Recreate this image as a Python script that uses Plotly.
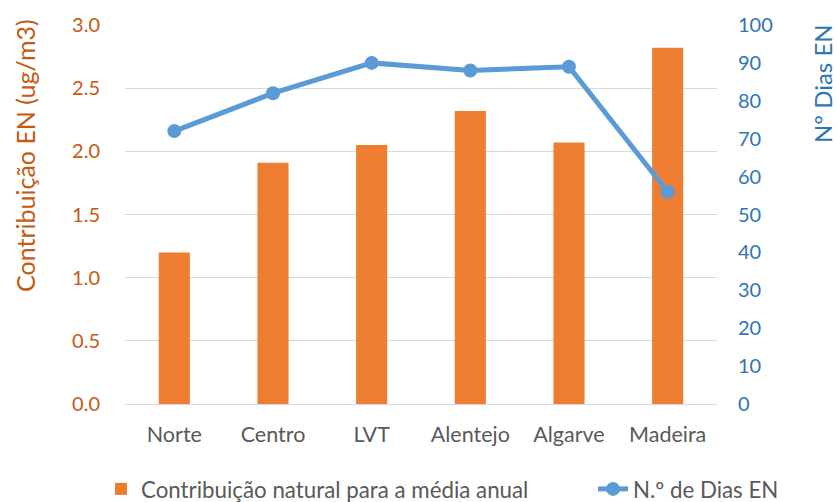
import plotly.graph_objects as go

categories = ["Norte", "Centro", "LVT", "Alentejo", "Algarve", "Madeira"]
contrib = [1.20, 1.91, 2.05, 2.32, 2.07, 2.82]
dias = [72, 82, 90, 88, 89, 56]
left_ticks = [0, 0.5, 1.0, 1.5, 2.0, 2.5, 3.0]
right_ticks = [0, 10, 20, 30, 40, 50, 60, 70, 80, 90, 100]

FONT = "Lato"
ORANGE = "#ED7D31"
BLUE = "#5B9BD5"

fig = go.Figure()
fig.add_trace(go.Bar(x=categories, y=contrib, name="Contribuição natural para a média anual",
                     marker=dict(color=ORANGE, line=dict(width=0)), yaxis="y", legend="legend"))
fig.add_trace(go.Scatter(x=categories, y=dias, name="N.º de Dias EN", mode="lines+markers",
                         line=dict(color=BLUE, width=5), marker=dict(color=BLUE, size=14),
                         yaxis="y2", legend="legend2"))

legend_common = dict(orientation="h", xref="container", yref="paper",
                     xanchor="left", yanchor="middle", y=-0.224,
                     font=dict(size=22.3, color="#595959"), bgcolor="rgba(0,0,0,0)",
                     borderwidth=0)

fig.update_layout(
    template="none",
    width=837, height=502,
    margin=dict(l=125, r=120, t=25, b=98, autoexpand=False),
    paper_bgcolor="white", plot_bgcolor="white",
    bargap=0.685,
    font=dict(family=FONT, size=20, color="#595959"),
    xaxis=dict(showgrid=False, showline=True, linecolor="#D9D9D9", linewidth=1,
               automargin=False, zeroline=False,
               ticks="", tickfont=dict(size=21.5, color="#595959"), ticklabelstandoff=11),
    yaxis=dict(range=[0, 3.0], tickvals=left_ticks, ticktext=[f"{v:.1f}" for v in left_ticks],
               showgrid=True, gridcolor="#D9D9D9", gridwidth=1, zeroline=False, showline=False,
               automargin=False, ticks="",
               tickfont=dict(size=20, color="#C55A11"), ticklabelstandoff=24),
    yaxis2=dict(range=[0, 100], tickvals=right_ticks, overlaying="y", side="right",
                showgrid=False, zeroline=False, showline=False, automargin=False, ticks="",
                tickfont=dict(size=20, color="#2E75B6"), ticklabelstandoff=20),
    showlegend=True,
    legend=dict(x=101 / 837, **legend_common),
    legend2=dict(x=593 / 837, **legend_common),
    annotations=[
        dict(text="Contribuição EN (ug/m3)", textangle=-90, xref="paper", yref="paper",
             x=-0.169, y=0.657, xanchor="center", yanchor="middle", showarrow=False,
             font=dict(size=25, color="#C55A11")),
        dict(text="Nº Dias EN", textangle=-90, xref="paper", yref="paper",
             x=1.179, y=0.847, xanchor="center", yanchor="middle", showarrow=False,
             font=dict(size=24, color="#2E75B6")),
    ],
)

fig.write_html("out.html", config={"displayModeBar": False},
               post_script="document.body.style.margin='0';document.body.style.overflow='hidden';")
